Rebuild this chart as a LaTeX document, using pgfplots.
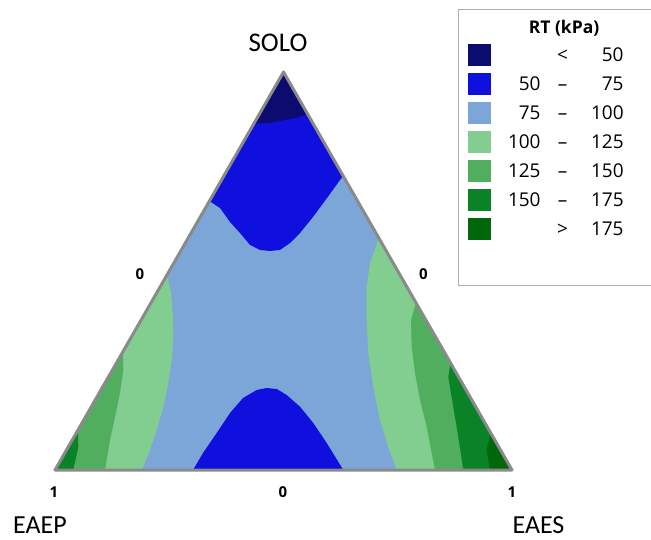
\documentclass[border=0pt]{standalone}
\usepackage{fontspec}
\setmainfont{Open Sans}
\newfontfamily\calib{Carlito}
\usepackage{pgfplots}
\pgfplotsset{compat=1.18}
\definecolor{navyc}{RGB}{12,12,112}
\definecolor{bluec}{RGB}{16,16,222}
\definecolor{lbluec}{RGB}{124,166,216}
\definecolor{lgreenc}{RGB}{130,206,144}
\definecolor{mgreenc}{RGB}{80,174,94}
\definecolor{greenc}{RGB}{10,130,38}
\definecolor{dgreenc}{RGB}{0,104,10}
\definecolor{edgec}{RGB}{138,138,138}
\definecolor{legbord}{RGB}{175,175,175}
\newcommand\lgd[3]{\makebox[36pt][r]{#1}\makebox[44pt][c]{#2}\makebox[39pt][r]{#3}\kern40pt\relax}
\begin{document}
\begin{tikzpicture}
\begin{axis}[
  name=ax,
  width=651pt, height=540pt, scale only axis,
  xmin=0, xmax=651, ymin=0, ymax=540, y dir=reverse,
  hide axis, clip=false,
  legend style={at={(axis cs:458,9)}, anchor=north west, draw=legbord, line width=1.2pt,
    fill=white, inner xsep=9pt, inner ysep=9pt, row sep=7pt,
    font=\fontsize{19}{22}\selectfont,
    /tikz/every odd column/.append style={column sep=12pt}},
  legend cell align=left,
  legend image code/.code={\fill[#1] (0pt,-11pt) rectangle (23pt,11pt);},
]
% light blue (75-100): whole triangle
\addplot[fill=lbluec, draw=none, forget plot] coordinates {(283.5,72) (55,470) (512,470)} -- cycle;
% top blue (50-75)
\addplot[fill=bluec, draw=none, forget plot] coordinates {
 (283.5,72) (209.4,201) (220,208) (230,222) (240,233) (250,245) (260,250) (270,251)
 (280,250) (290,243) (300,233) (313,217) (327,198) (340,180) (343.2,176)} -- cycle;
% navy (<50)
\addplot[fill=navyc, draw=none, forget plot] coordinates {
 (283.5,72) (307.6,114) (297,117.7) (283,120.5) (270,122.7) (253.6,124)} -- cycle;
% bottom blue (50-75)
\addplot[fill=bluec, draw=none, forget plot] coordinates {
 (193,470) (203,453) (216.7,433) (230,413) (243,398) (256.7,390) (266.7,388) (276.7,389)
 (286.7,395) (300,406.7) (313.3,423) (326.7,443) (343.3,470)} -- cycle;
% left greens
\addplot[fill=lgreenc, draw=none, forget plot] coordinates {
 (167,275) (171,293) (173,317) (173.3,337) (171.7,360) (168.3,383) (163.3,407) (156.7,430)
 (150,450) (141.7,470) (55,470)} -- cycle;
\addplot[fill=mgreenc, draw=none, forget plot] coordinates {
 (122.8,352) (123.3,370) (120,393) (115,417) (110,440) (105,470) (55,470)} -- cycle;
\addplot[fill=greenc, draw=none, forget plot] coordinates {
 (78,430) (78.3,447) (73.3,470) (55,470)} -- cycle;
% right greens
\addplot[fill=lgreenc, draw=none, forget plot] coordinates {
 (378.8,238) (370,263) (366.7,287) (366.7,320) (368.3,353) (373.3,387) (380,420) (388.3,447)
 (396.7,470) (512,470)} -- cycle;
\addplot[fill=mgreenc, draw=none, forget plot] coordinates {
 (416.1,303) (411,320) (411.7,347) (415,373) (420,400) (426.7,427) (435,470) (512,470)} -- cycle;
\addplot[fill=greenc, draw=none, forget plot] coordinates {
 (450.6,363) (448.3,377) (453.3,407) (458.3,437) (463.3,470) (512,470)} -- cycle;
\addplot[fill=dgreenc, draw=none, forget plot] coordinates {
 (490.7,433) (486.7,450) (490,470) (512,470)} -- cycle;
% triangle outline
\addplot[draw=edgec, line width=3pt, line join=round, mark=none, forget plot]
 coordinates {(283.5,72) (55,470) (512,470)} -- cycle;
% labels
\node[font=\calib\fontsize{27}{30}\selectfont, anchor=base, inner sep=0pt] at (axis cs:278,52) {SOLO};
\node[font=\calib\fontsize{26}{30}\selectfont, anchor=base, inner sep=0pt] at (axis cs:40,533) {EAEP};
\node[font=\calib\fontsize{26}{30}\selectfont, anchor=base, inner sep=0pt] at (axis cs:538.5,533) {EAES};
\node[font=\fontsize{15}{17}\selectfont\bfseries] at (axis cs:54,492) {1};
\node[font=\fontsize{15}{17}\selectfont\bfseries] at (axis cs:283,492) {0};
\node[font=\fontsize{15}{17}\selectfont\bfseries] at (axis cs:512,492) {1};
\node[font=\fontsize{15}{17}\selectfont\bfseries] at (axis cs:140,274) {0};
\node[font=\fontsize{15}{17}\selectfont\bfseries] at (axis cs:423.5,274) {0};
% legend
\addlegendimage{empty legend}
\addlegendentry{\makebox[119pt][c]{\fontsize{17.5}{20}\selectfont\bfseries RT (kPa)}\kern40pt\relax}
\addlegendimage{fill=navyc, draw=none}
\addlegendentry{\lgd{}{<}{50}}
\addlegendimage{fill=bluec, draw=none}
\addlegendentry{\lgd{50}{\textendash}{75}}
\addlegendimage{fill=lbluec, draw=none}
\addlegendentry{\lgd{75}{\textendash}{100}}
\addlegendimage{fill=lgreenc, draw=none}
\addlegendentry{\lgd{100}{\textendash}{125}}
\addlegendimage{fill=mgreenc, draw=none}
\addlegendentry{\lgd{125}{\textendash}{150}}
\addlegendimage{fill=greenc, draw=none}
\addlegendentry{\lgd{150}{\textendash}{175}}
\addlegendimage{fill=dgreenc, draw=none}
\addlegendentry{\lgd{}{>}{175}}
\addlegendimage{empty legend}
\addlegendentry{\rule{0pt}{24pt}}
\coordinate (bbA) at (rel axis cs:0,0);
\coordinate (bbB) at (rel axis cs:1,1);
\end{axis}
\pgfresetboundingbox
\path[use as bounding box] (bbA) rectangle (bbB);
\end{tikzpicture}
\end{document}
